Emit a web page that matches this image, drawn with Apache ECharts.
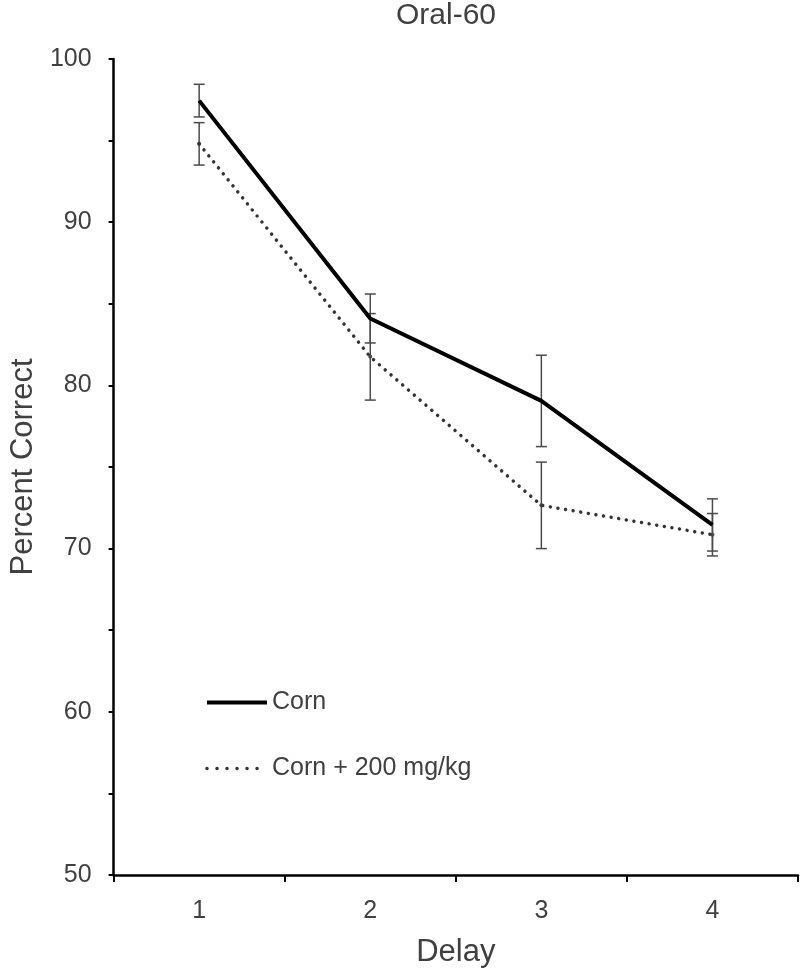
<!DOCTYPE html>
<html>
<head>
<meta charset="utf-8">
<script src="https://cdn.jsdelivr.net/npm/echarts@6/dist/echarts.min.js"></script>
<style>
html,body{margin:0;padding:0;background:#fff;}
#chart{width:800px;height:973px;}
</style>
</head>
<body>
<div id="chart"></div>
<script>
var categories = ['1', '2', '3', '4'];
var cornMean = [97.45, 84.1, 79.05, 71.45];
var cornErr = [1.0, 1.5, 2.8, 1.6];
var doseMean = [94.8, 81.75, 72.65, 70.85];
var doseErr = [1.3, 2.65, 2.65, 1.3];
var seriesNames = ['Corn', 'Corn + 200 mg/kg'];
var titleText = 'Oral-60';
var xName = 'Delay';
var yName = 'Percent Correct';

var FONT = '"Liberation Sans", Arial, sans-serif';
var TXT = '#404040';

function errData(mean, err) {
  return mean.map(function (m, i) { return [i, m, err[i]]; });
}

function makeErrSeries(mean, err, showDot) {
  return {
    type: 'custom',
    silent: true,
    z: 1,
    encode: { x: 0, y: 1 },
    data: errData(mean, err),
    renderItem: function (params, api) {
      var i = api.value(0), m = api.value(1), e = api.value(2);
      var top = api.coord([i, m + e]);
      var bot = api.coord([i, m - e]);
      var mid = api.coord([i, m]);
      var hw = 5.5;
      var st = { stroke: '#4a4a4a', lineWidth: 1.5 };
      var ch = [
        { type: 'line', shape: { x1: top[0], y1: top[1], x2: bot[0], y2: bot[1] }, style: st },
        { type: 'line', shape: { x1: top[0] - hw, y1: top[1], x2: top[0] + hw, y2: top[1] }, style: st },
        { type: 'line', shape: { x1: bot[0] - hw, y1: bot[1], x2: bot[0] + hw, y2: bot[1] }, style: st }
      ];
      if (showDot) {
        ch.push({ type: 'circle', shape: { cx: mid[0], cy: mid[1], r: 2 }, style: { fill: '#4a4a4a' } });
      }
      return { type: 'group', children: ch };
    }
  };
}

var chart = echarts.init(document.getElementById('chart'), null, { renderer: 'canvas' });
chart.setOption({
  animation: false,
  backgroundColor: '#fff',
  title: {
    text: titleText,
    left: 446,
    textAlign: 'center',
    top: 1,
    padding: 0,
    textStyle: { fontFamily: FONT, fontSize: 30, fontWeight: 'normal', color: TXT }
  },
  legend: {
    orient: 'vertical',
    left: 205,
    top: 690,
    padding: 0,
    itemWidth: 60,
    itemHeight: 25,
    itemGap: 41,
    itemStyle: { opacity: 0 },
    textStyle: { fontFamily: FONT, fontSize: 25, color: TXT },
    data: [
      { name: seriesNames[0], lineStyle: { color: '#000', width: 4 } },
      { name: seriesNames[1], lineStyle: { color: '#333', width: 3.5, type: [0.01, 10], cap: 'round' } }
    ]
  },
  grid: { left: 103, right: 2, top: 59, bottom: 89, containLabel: false },
  xAxis: {
    type: 'category',
    data: categories,
    boundaryGap: true,
    name: xName,
    nameLocation: 'middle',
    nameGap: 62,
    nameTextStyle: { fontFamily: FONT, fontSize: 31, color: TXT },
    axisLine: { lineStyle: { color: '#000', width: 2.5 } },
    axisTick: { show: true, alignWithLabel: false, length: 7, lineStyle: { color: '#000', width: 2 } },
    axisLabel: { fontFamily: FONT, fontSize: 25, color: TXT, margin: 24 },
    splitLine: { show: false }
  },
  yAxis: {
    type: 'value',
    min: 50,
    max: 100,
    interval: 5,
    name: yName,
    nameLocation: 'middle',
    nameGap: 74,
    nameTextStyle: { fontFamily: FONT, fontSize: 31, color: TXT },
    axisLine: { show: true, lineStyle: { color: '#000', width: 2.5 } },
    axisTick: { show: true, length: 5, lineStyle: { color: '#000', width: 2 } },
    axisLabel: {
      fontFamily: FONT, fontSize: 25, color: TXT, margin: 22,
      formatter: function (v) { return v % 10 === 0 ? String(v) : ''; }
    },
    splitLine: { show: false }
  },
  series: [
    makeErrSeries(cornMean, cornErr, false),
    makeErrSeries(doseMean, doseErr, true),
    {
      name: seriesNames[0],
      type: 'line',
      data: cornMean,
      symbol: 'none',
      z: 3,
      lineStyle: { color: '#000', width: 4 },
      itemStyle: { color: '#000' }
    },
    {
      name: seriesNames[1],
      type: 'line',
      data: doseMean,
      symbol: 'none',
      z: 2,
      lineStyle: { color: '#333', width: 3.5, type: [0.01, 7.7], cap: 'round' },
      itemStyle: { color: '#333' }
    }
  ]
});
</script>
</body>
</html>
